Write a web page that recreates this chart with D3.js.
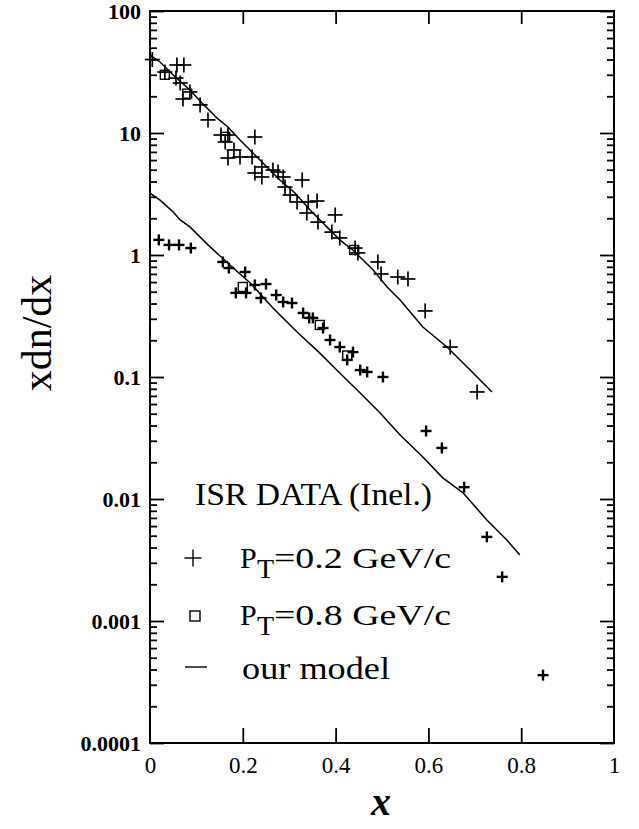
<!DOCTYPE html>
<html>
<head>
<meta charset="utf-8">
<script src="https://cdn.jsdelivr.net/npm/d3@7"></script>
<style>
  html, body { margin: 0; padding: 0; background: #fff; }
  svg { display: block; }
</style>
</head>
<body>
<svg id="chart" width="639" height="829"></svg>
<script>
// Feynman-x spectra, xdn/dx vs x, with model curves

// P_T = 0.2 GeV/c, upper band (crosses)
const upperPts = [
  [0.005, 40.0], [0.032, 31.6], [0.058, 36.1], [0.073, 36.1], [0.056, 28.2],
  [0.065, 25.7], [0.086, 21.7], [0.071, 19.0], [0.108, 17.0], [0.125, 12.8],
  [0.153, 9.63], [0.168, 9.63], [0.162, 8.44], [0.226, 9.27], [0.181, 7.26],
  [0.168, 6.24], [0.194, 6.36], [0.220, 6.36], [0.241, 5.27], [0.226, 4.70],
  [0.241, 4.36], [0.265, 4.97], [0.276, 4.79], [0.287, 4.36], [0.291, 3.61],
  [0.328, 4.12], [0.302, 3.10], [0.317, 2.72], [0.341, 2.72], [0.360, 2.77],
  [0.338, 2.21], [0.362, 1.86], [0.399, 2.13], [0.392, 1.54], [0.409, 1.38],
  [0.442, 1.14], [0.448, 1.04], [0.491, 0.877], [0.498, 0.699], [0.534, 0.660],
  [0.556, 0.636], [0.593, 0.348], [0.647, 0.176], [0.705, 0.0754]
];

// P_T = 0.2 GeV/c, lower band (small bold crosses)
const lowerPts = [
  [0.019, 1.33], [0.041, 1.21], [0.0625, 1.21], [0.088, 1.14], [0.157, 0.877],
  [0.170, 0.782], [0.205, 0.726], [0.185, 0.489], [0.207, 0.489], [0.226, 0.568],
  [0.250, 0.578], [0.239, 0.444], [0.272, 0.470], [0.287, 0.412], [0.306, 0.404],
  [0.330, 0.335], [0.343, 0.305], [0.351, 0.305], [0.373, 0.252], [0.388, 0.201],
  [0.409, 0.176], [0.4375, 0.160], [0.425, 0.138], [0.453, 0.114], [0.468, 0.110],
  [0.502, 0.100], [0.595, 0.0361], [0.629, 0.0262], [0.677, 0.0125], [0.726, 0.00489],
  [0.759, 0.0023], [0.847, 0.00036]
];

// P_T = 0.8 GeV/c (open squares)
const squarePts = [
  [0.032, 30.0], [0.080, 21.0], [0.162, 9.3], [0.440, 1.10],
  [0.200, 0.547], [0.366, 0.267], [0.425, 0.150]
];

// model curves
const modelUpper = [
  [0.0, 43.5], [0.0216, 38.2], [0.05, 29.9], [0.086, 22.5], [0.112, 17.6],
  [0.144, 13.3], [0.168, 11.2], [0.194, 8.77], [0.222, 6.86], [0.252, 5.27],
  [0.280, 4.12], [0.3125, 3.22], [0.345, 2.34], [0.381, 1.70], [0.409, 1.33],
  [0.437, 1.10], [0.453, 0.96], [0.481, 0.754], [0.511, 0.547], [0.539, 0.428],
  [0.588, 0.257], [0.640, 0.176], [0.690, 0.114], [0.737, 0.0754]
];
const modelLower = [
  [0.0, 3.22], [0.0216, 2.82], [0.05, 2.25], [0.065, 1.94], [0.086, 1.70],
  [0.125, 1.21], [0.151, 0.98], [0.177, 0.797], [0.216, 0.589], [0.265, 0.368],
  [0.317, 0.234], [0.366, 0.157], [0.409, 0.108], [0.453, 0.074], [0.496, 0.0507],
  [0.539, 0.0335], [0.588, 0.0221], [0.631, 0.0149], [0.675, 0.0112], [0.726, 0.00673],
  [0.769, 0.00461], [0.797, 0.00348]
];

const xTicks = [0, 0.2, 0.4, 0.6, 0.8, 1];
const xTickLabels = ["0", "0.2", "0.4", "0.6", "0.8", "1"];
const yTicks = [100, 10, 1, 0.1, 0.01, 0.001, 0.0001];
const yTickLabels = ["100", "10", "1", "0.1", "0.01", "0.001", "0.0001"];

const legendTitle = "ISR DATA (Inel.)";
const legendRows = [
  { sym: "plus",   pt: "0.2" },
  { sym: "square", pt: "0.8" },
  { sym: "line",   text: "our model" }
];

const serif = "'Liberation Serif', 'Times New Roman', serif";
const margin = { left: 150, right: 25, top: 11, bottom: 86 };
const W = 639, H = 829;

const svg = d3.select("#chart");
const x = d3.scaleLinear().domain([0, 1]).range([margin.left, W - margin.right]);
const y = d3.scaleLog().domain([0.0001, 100]).range([H - margin.bottom, margin.top]);

const minorY = [];
for (let e = -4; e < 2; e++) for (let k = 2; k <= 9; k++) minorY.push(k * Math.pow(10, e));

const axisStroke = 2;
function styleAxis(g) {
  g.select(".domain").remove();
  g.selectAll("line").attr("stroke", "#000").attr("stroke-width", 1.8);
}

// left axis: major and minor ticks pointing inward, bold labels
svg.append("g").attr("transform", `translate(${x(0)},0)`)
  .call(d3.axisRight(y).tickValues(yTicks).tickSize(14).tickFormat(() => ""))
  .call(styleAxis);
svg.append("g").attr("transform", `translate(${x(0)},0)`)
  .call(d3.axisRight(y).tickValues(minorY).tickSize(7).tickFormat(() => ""))
  .call(styleAxis);
svg.append("g").attr("transform", `translate(${x(0)},0)`)
  .call(d3.axisLeft(y).tickValues(yTicks).tickSize(0).tickPadding(9)
    .tickFormat((d, i) => yTickLabels[i]))
  .call(g => {
    g.select(".domain").remove();
    g.selectAll("text").attr("font-family", serif).attr("font-weight", "bold")
      .attr("font-size", 22).attr("fill", "#000");
  });

// right axis
svg.append("g").attr("transform", `translate(${x(1)},0)`)
  .call(d3.axisLeft(y).tickValues(yTicks).tickSize(14).tickFormat(() => ""))
  .call(styleAxis);
svg.append("g").attr("transform", `translate(${x(1)},0)`)
  .call(d3.axisLeft(y).tickValues(minorY).tickSize(7).tickFormat(() => ""))
  .call(styleAxis);

// bottom axis
const innerX = xTicks.slice(1, -1);
svg.append("g").attr("transform", `translate(0,${y(0.0001)})`)
  .call(d3.axisTop(x).tickValues(innerX).tickSize(15).tickFormat(() => ""))
  .call(styleAxis);
svg.append("g").attr("transform", `translate(0,${y(0.0001)})`)
  .call(d3.axisBottom(x).tickValues(xTicks).tickSize(0).tickPadding(14)
    .tickFormat((d, i) => xTickLabels[i]))
  .call(g => {
    g.select(".domain").remove();
    g.selectAll("text").attr("font-family", serif).attr("font-size", 23).attr("fill", "#000");
  });

// top axis
svg.append("g").attr("transform", `translate(0,${y(100)})`)
  .call(d3.axisBottom(x).tickValues(innerX).tickSize(13).tickFormat(() => ""))
  .call(styleAxis);

// frame
svg.append("rect")
  .attr("x", x(0)).attr("y", y(100))
  .attr("width", x(1) - x(0)).attr("height", y(0.0001) - y(100))
  .attr("fill", "none").attr("stroke", "#000").attr("stroke-width", axisStroke);

// model curves
const line = d3.line().x(d => x(d[0])).y(d => y(d[1]));
[modelUpper, modelLower].forEach(c => {
  svg.append("path").datum(c).attr("d", line)
    .attr("fill", "none").attr("stroke", "#000").attr("stroke-width", 1.5);
});

// markers
function plus(g, cx, cy, r, w) {
  g.append("line").attr("x1", cx - r).attr("x2", cx + r).attr("y1", cy).attr("y2", cy)
    .attr("stroke", "#000").attr("stroke-width", w);
  g.append("line").attr("x1", cx).attr("x2", cx).attr("y1", cy - r).attr("y2", cy + r)
    .attr("stroke", "#000").attr("stroke-width", w);
}
const marks = svg.append("g");
upperPts.forEach(d => plus(marks, x(d[0]), y(d[1]), 7.5, 1.7));
lowerPts.forEach(d => plus(marks, x(d[0]), y(d[1]), 5.5, 2.4));
marks.selectAll("rect.sq").data(squarePts).join("rect").attr("class", "sq")
  .attr("x", d => x(d[0]) - 4.5).attr("y", d => y(d[1]) - 4.5)
  .attr("width", 9).attr("height", 9)
  .attr("fill", "none").attr("stroke", "#000").attr("stroke-width", 1.4);

// legend (wide serif lettering)
const leg = svg.append("g").attr("font-family", serif).attr("fill", "#000");
leg.append("text").attr("x", 195).attr("y", 505).attr("font-size", 32)
  .attr("textLength", 237).attr("lengthAdjust", "spacingAndGlyphs")
  .text(legendTitle);
const rowBase = [568, 625, 679];
legendRows.forEach((r, i) => {
  const by = rowBase[i];
  const cy = by - 10;
  if (r.sym === "plus") plus(leg, 193, cy, 8.5, 1.4);
  if (r.sym === "square") leg.append("rect").attr("x", 190).attr("y", cy - 4)
    .attr("width", 10).attr("height", 10).attr("fill", "none")
    .attr("stroke", "#000").attr("stroke-width", 1.4);
  if (r.sym === "line") leg.append("line").attr("x1", 185).attr("x2", 207)
    .attr("y1", cy - 2).attr("y2", cy - 2).attr("stroke", "#000").attr("stroke-width", 1.4);
  if (r.pt) {
    leg.append("text").attr("x", 240).attr("y", by).attr("font-size", 30).text("P");
    leg.append("text").attr("x", 257).attr("y", by + 10).attr("font-size", 28).text("T");
    leg.append("text").attr("x", 274).attr("y", by).attr("font-size", 30)
      .attr("textLength", 177).attr("lengthAdjust", "spacingAndGlyphs")
      .text("=" + r.pt + " GeV/c");
  } else {
    leg.append("text").attr("x", 242).attr("y", by).attr("font-size", 31)
      .attr("textLength", 148).attr("lengthAdjust", "spacingAndGlyphs")
      .text(r.text);
  }
});

// axis titles
svg.append("text").attr("x", (x(0) + x(1)) / 2 - 1).attr("y", 815)
  .attr("text-anchor", "middle").attr("font-family", serif)
  .attr("font-weight", "bold").attr("font-style", "italic").attr("font-size", 40)
  .text("x");
svg.append("text")
  .attr("transform", "translate(51,333) rotate(-90)")
  .attr("text-anchor", "middle").attr("font-family", serif).attr("font-size", 42)
  .text("xdn/dx");
</script>
</body>
</html>
